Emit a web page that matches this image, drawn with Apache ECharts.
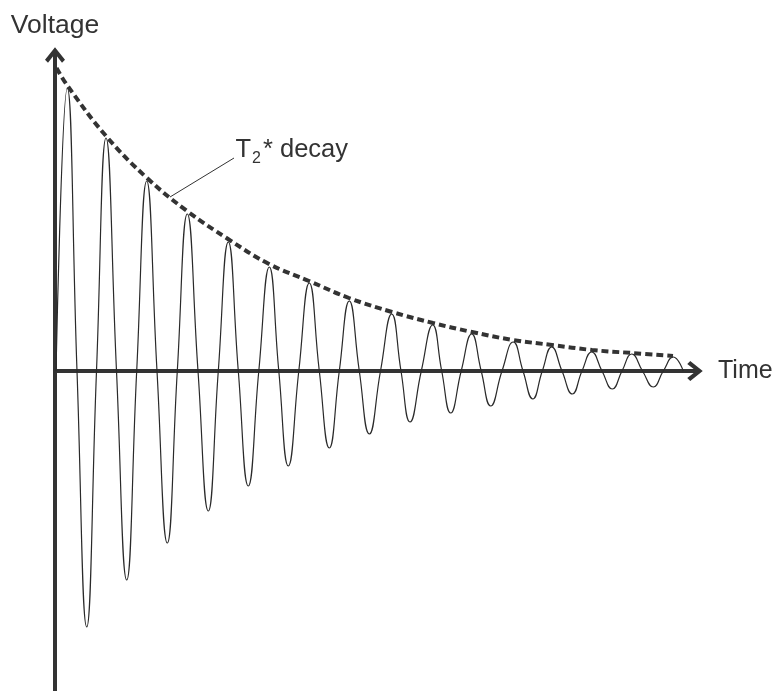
<!DOCTYPE html>
<html>
<head>
<meta charset="utf-8">
<script src="https://cdn.jsdelivr.net/npm/echarts@6/dist/echarts.min.js"></script>
<style>
  html, body { margin: 0; padding: 0; background: #fff; }
  #chart { width: 775px; height: 691px; }
</style>
</head>
<body>
<div id="chart"></div>
<script>
// Free induction decay: extrema and zero crossings
var fidTime = [0.1, 1.23, 2.2, 3.17, 4.15, 5.1, 6.15, 7.17, 8.17, 9.17, 10.2, 11.23, 12.23, 13.23, 14.3, 15.33, 16.33,
  17.33, 18.33, 19.33, 20.38, 21.43, 22.38, 23.33, 24.38, 25.43, 26.43, 27.43, 28.43, 29.43, 30.43, 31.43, 32.55,
  33.67, 34.6, 35.5, 36.63, 37.77, 38.67, 39.57, 40.62, 41.67, 42.62, 43.57, 44.7, 45.83, 46.8, 47.78, 48.73,
  49.67, 50.7, 51.73, 52.7, 53.67, 54.7, 55.73, 56.7, 57.67, 58.75, 59.83, 60.83, 61.83, 62.83];
var fidVoltage = [0, 2.83, 0, -2.56, 0, 2.33, 0, -2.09, 0, 1.90, 0, -1.72, 0, 1.57, 0, -1.40, 0,
  1.29, 0, -1.15, 0, 1.04, 0, -0.95, 0, 0.88, 0, -0.77, 0, 0.70, 0, -0.63, 0,
  0.57, 0, -0.51, 0, 0.46, 0, -0.42, 0, 0.37, 0, -0.35, 0, 0.29, 0, -0.28, 0,
  0.24, 0, -0.23, 0, 0.19, 0, -0.18, 0, 0.17, 0, -0.16, 0, 0.14, 0];

// T2* envelope (dashed)
var envTime = [0.15, 1.2, 5.1, 9.2, 13.2, 17.3, 21.4, 25.4, 29.4, 33.7, 37.8, 41.7, 45.8, 49.7, 53.7, 57.7, 61.8];
var envVoltage = [3.03, 2.86, 2.35, 1.93, 1.60, 1.32, 1.07, 0.90, 0.73, 0.59, 0.48, 0.39, 0.31, 0.26, 0.21, 0.18, 0.15];

// Annotation
var leaderFrom = [11.5, 1.74];
var leaderTo = [17.9, 2.13];
var labelAt = [18.0, 2.19];

var xLabel = 'Time';
var yLabel = 'Voltage';

function pairs(xs, ys) { return xs.map(function (x, i) { return [x, ys[i]]; }); }

var chevron = 'path://M10,0 L20,12.5 L17,15.5 L10,6.5 L3,15.5 L0,12.5 Z';
var ink = '#333333';
var font = 'Arial, "Liberation Sans", Helvetica, sans-serif';

var chart = echarts.init(document.getElementById('chart'), null, { renderer: 'canvas' });
chart.setOption({
  animation: false,
  backgroundColor: '#ffffff',
  grid: { left: 55, right: 80, top: 55, bottom: 0, containLabel: false, outerBoundsMode: 'none' },
  xAxis: {
    type: 'value', min: 0, max: 64,
    name: xLabel, nameLocation: 'end', nameGap: 23,
    nameTextStyle: { color: ink, fontSize: 25, fontFamily: font },
    axisLine: { show: true, onZero: true, symbol: ['none', chevron], symbolSize: [20, 16],
      lineStyle: { color: ink, width: 4 } },
    axisTick: { show: false }, axisLabel: { show: false }, splitLine: { show: false }
  },
  yAxis: {
    type: 'value', min: -3.2, max: 3.16,
    name: yLabel, nameLocation: 'end', nameGap: 16,
    nameTextStyle: { color: ink, fontSize: 26.5, fontFamily: font },
    axisLine: { show: true, onZero: false, symbol: ['none', chevron], symbolSize: [20, 16],
      lineStyle: { color: ink, width: 4 } },
    axisTick: { show: false }, axisLabel: { show: false }, splitLine: { show: false }
  },
  series: [
    {
      type: 'line', name: 'FID', data: pairs(fidTime, fidVoltage),
      smooth: 0.5, showSymbol: false, symbol: 'none',
      lineStyle: { color: '#2a2a2a', width: 1.2 }, z: 2
    },
    {
      type: 'line', name: 'T2* decay', data: pairs(envTime, envVoltage),
      smooth: 0.4, showSymbol: false, symbol: 'none',
      lineStyle: { color: ink, width: 4, type: [7, 4] }, z: 3,
      markLine: {
        silent: true, symbol: ['none', 'none'],
        lineStyle: { color: ink, width: 1, type: 'solid' },
        label: { show: false },
        data: [[{ coord: leaderFrom }, { coord: leaderTo }]]
      },
      markPoint: {
        silent: true, symbol: 'circle', symbolSize: 1,
        itemStyle: { color: 'rgba(0,0,0,0)' },
        label: {
          show: true, position: 'right', distance: 0,
          formatter: '{a|T}{b|2}{a|* decay}',
          rich: {
            a: { fontSize: 25.5, fontFamily: font, color: ink, verticalAlign: 'bottom', padding: [0, 0, 4, 0] },
            b: { fontSize: 16, fontFamily: font, color: ink, verticalAlign: 'bottom', padding: [0, 2, 0, 1] }
          }
        },
        data: [{ coord: labelAt }]
      }
    }
  ]
});
</script>
</body>
</html>
